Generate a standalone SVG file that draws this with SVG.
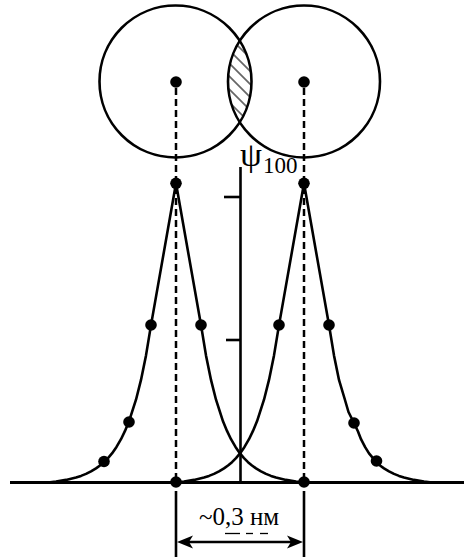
<svg xmlns="http://www.w3.org/2000/svg" width="464" height="557" viewBox="0 0 464 557">
<style>
.ln{fill:none;stroke:#000;stroke-width:2.6;stroke-linejoin:round;stroke-linecap:butt}
.dash{fill:none;stroke:#000;stroke-width:2.5;stroke-dasharray:7 4}
.dot{fill:#000}
.hatch{stroke:#666;stroke-width:1.6}
.t{font-family:"Liberation Serif","Times New Roman",serif;fill:#000}
</style>
<defs>
<clipPath id="lensA"><circle cx="175.5" cy="81.5" r="76"/></clipPath>
<clipPath id="lensB"><circle cx="304" cy="81.5" r="76"/></clipPath>
</defs>
<rect width="464" height="557" fill="#fff"/>
<g id="hatching" clip-path="url(#lensA)">
<g clip-path="url(#lensB)">
<line class="hatch" x1="215" y1="10" x2="265" y2="60"/>
<line class="hatch" x1="215" y1="23" x2="265" y2="73"/>
<line class="hatch" x1="215" y1="36" x2="265" y2="86"/>
<line class="hatch" x1="215" y1="49" x2="265" y2="99"/>
<line class="hatch" x1="215" y1="62" x2="265" y2="112"/>
<line class="hatch" x1="215" y1="75" x2="265" y2="125"/>
<line class="hatch" x1="215" y1="88" x2="265" y2="138"/>
<line class="hatch" x1="215" y1="101" x2="265" y2="151"/>
<line class="hatch" x1="215" y1="-3" x2="265" y2="47"/>
<line class="hatch" x1="215" y1="-16" x2="265" y2="34"/>
</g>
</g>
<g id="atomA">
<circle class="ln" cx="175.5" cy="81.5" r="76"/>
<circle class="dot" cx="176" cy="82" r="5.8"/>
</g>
<g id="atomB">
<circle class="ln" cx="304" cy="81.5" r="76"/>
<circle class="dot" cx="304" cy="82" r="5.8"/>
</g>
<g id="connectors">
<line class="dash" x1="176" y1="88" x2="176" y2="482"/>
<line class="dash" x1="304" y1="88" x2="304" y2="482"/>
<line class="ln" x1="176" y1="491" x2="176" y2="557"/>
<line class="ln" x1="304" y1="491" x2="304" y2="557"/>
</g>
<g id="axes">
<line class="ln" x1="10" y1="482.5" x2="464" y2="482.5" style="stroke-width:2.8"/>
<line class="ln" x1="240.5" y1="167" x2="240.5" y2="482.5"/>
<line class="ln" x1="224" y1="197" x2="240.5" y2="197"/>
<line class="ln" x1="226" y1="340" x2="240.5" y2="340"/>
<text class="t" x="240" y="166" font-size="33" textLength="22" lengthAdjust="spacingAndGlyphs">ψ</text>
<text class="t" x="263" y="173" font-size="23">100</text>
</g>
<g id="curveA">
<polyline class="ln" points="48,482.5 56,481.5 66,479.9 76,477.5 81,475.9 86,473.9 91,471.4 96,468.4 100,465.5 104,462.2 108,458.1 112,453.4 116.5,446.9 121,439.2 125,430.9 129,421.3 136,399.7 141,379.9 146,355.4 151,325.1 176,183.3 201,325.1 206,355.4 211,379.9 216,399.7 223,421.3 227,430.9 231,439.2 235.5,446.9 240,453.4 244,458.1 248,462.2 252,465.5 256,468.4 261,471.4 266,473.9 271,475.9 276,477.5 286,479.9 296,481.5 304,482.5"/>
<circle class="dot" cx="176" cy="183.3" r="5.8"/>
<circle class="dot" cx="151" cy="325" r="5.8"/>
<circle class="dot" cx="201" cy="325" r="5.8"/>
<circle class="dot" cx="129" cy="422" r="5.8"/>
<circle class="dot" cx="104" cy="461.5" r="5.8"/>
<circle class="dot" cx="176" cy="482" r="5.8"/>
</g>
<g id="curveB">
<polyline class="ln" points="176,482.5 184,481.5 194,479.9 204,477.5 209,475.9 214,473.9 219,471.4 224,468.4 228,465.5 232,462.2 236,458.1 240,453.4 244.5,446.9 249,439.2 253,430.9 257,421.3 264,399.7 269,379.9 274,355.4 279,325.1 304,183.3 329,325.1 334,355.4 339,379.9 345,400 348.5,412 354,423 358,431.5 361,439.2 365,446.9 369,453.4 373,458.1 376.5,461.5 380,465.5 384,468.4 389,471.4 394,473.9 399,475.9 404,477.5 414,479.9 424,481.5 432,482.5"/>
<circle class="dot" cx="304" cy="183.3" r="5.8"/>
<circle class="dot" cx="279" cy="325" r="5.8"/>
<circle class="dot" cx="329" cy="325" r="5.8"/>
<circle class="dot" cx="354" cy="423" r="5.8"/>
<circle class="dot" cx="376.5" cy="461" r="5.8"/>
<circle class="dot" cx="304" cy="482" r="5.8"/>
</g>
<g id="dimension">
<line class="ln" x1="188" y1="542" x2="292" y2="542"/>
<path d="M177,542 L193,535.5 L189,542 L193,548.5 Z" fill="#000"/>
<path d="M303,542 L287,535.5 L291,542 L287,548.5 Z" fill="#000"/>
<text class="t" x="239" y="525" font-size="25" text-anchor="middle">~0,3 нм</text>
<line x1="225" y1="533.5" x2="240" y2="533.5" stroke="#000" stroke-width="1.3"/>
<line x1="246" y1="533.5" x2="253" y2="533.5" stroke="#000" stroke-width="1.3"/>
<line x1="260" y1="533.5" x2="268" y2="533.5" stroke="#000" stroke-width="1.3"/>
</g>
</svg>
